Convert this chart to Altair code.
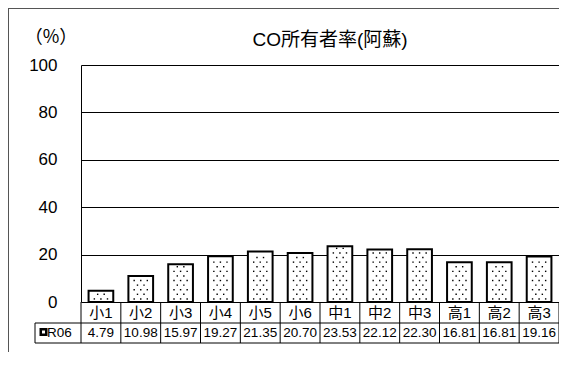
import altair as alt
import pandas as pd

categories = ["小1", "小2", "小3", "小4", "小5", "小6", "中1", "中2", "中3", "高1", "高2", "高3"]
values = [4.79, 10.98, 15.97, 19.27, 21.35, 20.70, 23.53, 22.12, 22.30, 16.81, 16.81, 19.16]
value_labels = ["4.79", "10.98", "15.97", "19.27", "21.35", "20.70", "23.53", "22.12", "22.30", "16.81", "16.81", "19.16"]
series_name = "R06"
title_text = "CO所有者率(阿蘇)"
unit_text = "（%）"
y_ticks = [0, 20, 40, 60, 80, 100]

W, H = 478, 237
FONT = "Liberation Sans, Arial, Noto Sans CJK JP"
CJK = "Noto Sans CJK JP"

df = pd.DataFrame({"cat": categories, "value": values, "label": value_labels,
                   "i": list(range(len(categories)))})
one = pd.DataFrame({"a": [0]})
bounds = pd.DataFrame({"b": list(range(len(categories) + 1))})

xs = alt.Scale(domain=[0, len(categories)], nice=False, zero=False)
ys = alt.Scale(domain=[0, 100], nice=False)

base = alt.Chart(df).transform_calculate(xc="datum.i + 0.5")

bars = base.transform_calculate(x0="datum.i + 0.19", x1="datum.i + 0.81").mark_rect(
    fill="white", stroke="black", strokeWidth=2
).encode(
    x=alt.X("x0:Q", scale=xs, axis=None),
    x2="x1:Q",
    y=alt.Y("value:Q", scale=ys, axis=alt.Axis(
        values=y_ticks, grid=True, gridColor="black", gridWidth=1, gridOpacity=1,
        domain=True, domainColor="black", domainWidth=1, ticks=False,
        labelFontSize=17, labelFont=FONT, labelColor="black", labelPadding=24,
        title=None)),
    y2=alt.datum(0),
)

dots = base.transform_calculate(
    ys="sequence(1.3, datum.value - 0.7, 1.94)"
).transform_flatten(["ys"]).transform_calculate(
    r="round((datum.ys - 1.3) / 1.94)"
).transform_calculate(
    offs="datum.r % 2 == 0 ? [-0.165, 0, 0.165] : [-0.082, 0.082]"
).transform_flatten(["offs"]).transform_calculate(
    xd="datum.i + 0.5 + datum.offs"
).mark_square(size=2, color="black", opacity=1).encode(
    x=alt.X("xd:Q", scale=xs, axis=None),
    y=alt.Y("ys:Q", scale=ys),
)

vlines = alt.Chart(bounds).mark_rule(color="black", strokeWidth=1).encode(
    x=alt.X("b:Q", scale=xs, axis=None),
    y=alt.value(0 + H), y2=alt.value(H + 41),
)
hline1 = alt.Chart(one).mark_rule(color="black", strokeWidth=1).encode(
    x=alt.value(-46), x2=alt.value(W), y=alt.value(H + 21))
hline2 = alt.Chart(one).mark_rule(color="black", strokeWidth=1).encode(
    x=alt.value(-46), x2=alt.value(W), y=alt.value(H + 41))
lline = alt.Chart(one).mark_rule(color="black", strokeWidth=1).encode(
    x=alt.value(-46), y=alt.value(H + 21), y2=alt.value(H + 41))

cat_text = base.mark_text(fontSize=15, font=FONT, baseline="middle", color="black").encode(
    x=alt.X("xc:Q", scale=xs, axis=None), y=alt.value(H + 11), text="cat:N")
val_text = base.mark_text(fontSize=13.5, font=FONT, baseline="middle", color="black").encode(
    x=alt.X("xc:Q", scale=xs, axis=None), y=alt.value(H + 31), text="label:N")

marker = alt.Chart(one).mark_square(size=30, fill="white", stroke="black", strokeWidth=2.5, opacity=1).encode(
    x=alt.value(-37.5), y=alt.value(H + 30))
series_text = alt.Chart(one).mark_text(fontSize=13.5, font=FONT, baseline="middle", align="left",
                                       color="black").encode(
    x=alt.value(-34), y=alt.value(H + 31), text=alt.value(series_name))

title = alt.Chart(one).mark_text(fontSize=19, font=FONT, baseline="middle", align="center",
                                 color="black").encode(
    x=alt.value(249), y=alt.value(-25), text=alt.value(title_text))
unit = alt.Chart(one).mark_text(fontSize=18, font=CJK, baseline="middle", align="center",
                                color="black").encode(
    x=alt.value(-30), y=alt.value(-27), text=alt.value(unit_text))

btop = alt.Chart(one).mark_rule(color="#555", strokeWidth=1).encode(
    x=alt.value(-73), x2=alt.value(W), y=alt.value(-56.5))
bleft = alt.Chart(one).mark_rule(color="#555", strokeWidth=1).encode(
    x=alt.value(-72.5), y=alt.value(-57), y2=alt.value(H + 50))

chart = alt.layer(
    bars, dots, vlines, hline1, hline2, lline, cat_text, val_text,
    marker, series_text, title, unit, btop, bleft
).properties(
    width=W, height=H, autosize="none",
    padding={"left": 73, "top": 57, "right": 0, "bottom": 50},
    background="white",
).configure_view(stroke=None)

chart.save("out.html", embed_options={"renderer": "svg", "actions": False})
